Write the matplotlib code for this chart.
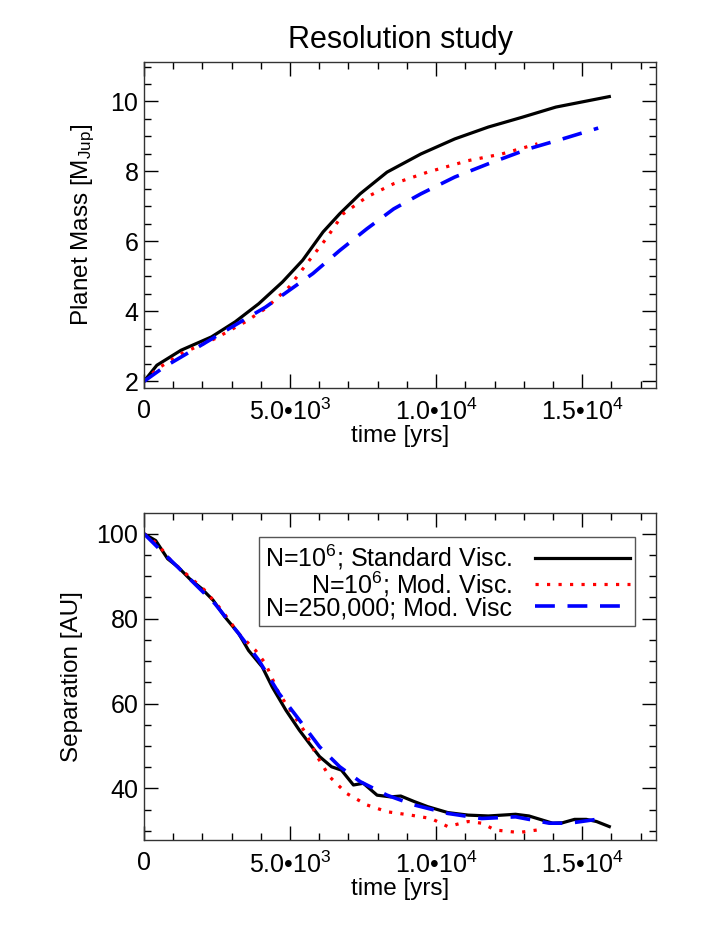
import numpy as np
import matplotlib
matplotlib.use('Agg')
import matplotlib.pyplot as plt
from matplotlib.ticker import FixedLocator, MultipleLocator

plt.rcParams['font.family'] = ['Liberation Sans', 'DejaVu Sans']
plt.rcParams['mathtext.fontset'] = 'custom'
plt.rcParams['mathtext.rm'] = 'Liberation Sans'
plt.rcParams['mathtext.it'] = 'Liberation Sans:italic'

# ---- planet mass (top panel) ----
t_std_m = [0, 440, 1270, 2310, 3120, 3930, 4740, 5430, 6130, 6700, 7400, 8320, 9480, 10640, 11790, 12950, 14100, 15930]
m_std = [2.0, 2.46, 2.89, 3.27, 3.70, 4.22, 4.84, 5.46, 6.27, 6.79, 7.36, 7.98, 8.50, 8.93, 9.27, 9.55, 9.84, 10.14]

t_mod_m = [0, 460, 1270, 2430, 3470, 4160, 4970, 5660, 6240, 6820, 7630, 8550, 9710, 11100, 12250, 13470]
m_mod = [2.0, 2.36, 2.79, 3.22, 3.70, 4.08, 4.70, 5.46, 6.08, 6.79, 7.27, 7.65, 7.98, 8.31, 8.50, 8.79]

t_low_m = [0, 690, 1850, 3000, 4160, 4970, 5780, 6700, 7630, 8550, 9480, 10640, 11790, 13180, 14330, 15550]
m_low = [2.0, 2.41, 2.98, 3.55, 4.12, 4.60, 5.08, 5.74, 6.36, 6.93, 7.36, 7.84, 8.22, 8.65, 8.93, 9.24]

# ---- separation (bottom panel) ----
t_std_s = [0, 400, 810, 1160, 1560, 1970, 2370, 2770, 3240, 3580, 4050, 4390, 4860, 5320, 5660, 6010,
           6420, 6760, 7170, 7510, 7980, 8440, 8790, 9250, 9710, 10400, 11100, 11790, 12720, 13180,
           13990, 14330, 14740, 15140, 15490, 15930]
s_std = [100, 98.4, 94.1, 92.2, 89.4, 87.1, 84.3, 80.4, 76.5, 72.5, 68.6, 63.9, 58.4, 53.7, 50.6, 47.5,
         45.1, 44.3, 40.8, 41.2, 38.4, 38.0, 38.2, 36.9, 35.7, 34.3, 33.7, 33.5, 33.9, 33.5,
         31.8, 31.9, 32.7, 32.7, 32.2, 31.0]

t_mod_s = [0, 460, 920, 1500, 2080, 2660, 3240, 3820, 4160, 4620, 5090, 5550, 5900, 6360, 6940, 7630,
           8320, 9130, 9830, 10400, 11100, 11560, 12020, 12830, 13470]
s_mod = [100, 97.6, 93.7, 90.2, 86.7, 82.0, 76.5, 72.5, 69.4, 62.4, 57.6, 52.9, 47.8, 42.7, 38.8, 36.1,
         34.5, 33.7, 32.9, 31.0, 32.2, 31.8, 30.2, 29.6, 30.2]

t_low_s = [0, 690, 1620, 2430, 3240, 3930, 4620, 5320, 6010, 6700, 7400, 8320, 9250, 10400, 11560,
           12720, 13870, 14570, 15490]
s_low = [100, 95.3, 89.0, 83.5, 76.5, 70.2, 62.4, 56.1, 49.8, 45.1, 41.6, 38.4, 36.1, 34.1, 32.9,
         33.3, 31.8, 31.8, 32.7]

labels = ['N=10$^6$; Standard Visc.', 'N=10$^6$; Mod. Visc.', 'N=250,000; Mod. Visc']
xticks = [0, 5000, 10000, 15000]
xticklabels = ['0', '5.0\u202210$^3$', '1.0\u202210$^4$', '1.5\u202210$^4$']

styles = [dict(color='black', lw=2.3, ls='-'),
          dict(color='red', lw=2.3, ls=(0, (1, 2.6))),
          dict(color='blue', lw=2.6, ls=(0, (5.5, 3.5)))]


def style_axis(ax, ymajor, yminor):
    ax.set_xlim(0, 17530)
    ax.xaxis.set_major_locator(FixedLocator(xticks))
    ax.set_xticklabels(xticklabels)
    ax.xaxis.set_minor_locator(MultipleLocator(1000))
    ax.yaxis.set_major_locator(MultipleLocator(ymajor))
    ax.yaxis.set_minor_locator(MultipleLocator(yminor))
    ax.tick_params(which='both', direction='in', top=True, right=True, labelsize=18)
    ax.tick_params(axis='x', pad=8)
    ax.tick_params(axis='y', pad=4)
    ax.tick_params(which='major', length=10, width=1)
    ax.tick_params(which='minor', length=5, width=1)
    for sp in ax.spines.values():
        sp.set_linewidth(1)
        sp.set_color('#333333')


fig = plt.figure(figsize=(7.09, 9.44), dpi=100)

# top: planet mass
ax1 = fig.add_axes([0.2031, 0.589, 0.7222, 0.345])
ax1.plot(t_std_m, m_std, **styles[0])
ax1.plot(t_mod_m, m_mod, **styles[1])
ax1.plot(t_low_m, m_low, **styles[2])
style_axis(ax1, 2, 0.5)
ax1.set_ylim(1.81, 11.12)
ax1.set_xlabel('time [yrs]', fontsize=17.5, labelpad=0)
ax1.set_ylabel('Planet Mass [M$_{\\mathrm{Jup}}$]', fontsize=17.5, labelpad=10)
ax1.set_title('Resolution study', fontsize=22, pad=10)

# bottom: separation
ax2 = fig.add_axes([0.2031, 0.110, 0.7222, 0.3466])
ax2.plot(t_std_s, s_std, label=labels[0], **styles[0])
ax2.plot(t_mod_s, s_mod, label=labels[1], **styles[1])
ax2.plot(t_low_s, s_low, label=labels[2], **styles[2])
style_axis(ax2, 20, 5)
ax2.set_ylim(27.8, 104.9)
ax2.set_xlabel('time [yrs]', fontsize=17.5, labelpad=0)
ax2.set_ylabel('Separation [AU]', fontsize=17.5, labelpad=10)

leg = ax2.legend(loc='upper right', bbox_to_anchor=(0.959, 0.927), borderaxespad=0,
                 markerfirst=False, fancybox=False, fontsize=18, handlelength=3.8,
                 handletextpad=0.9, labelspacing=-0.1, borderpad=0.22, framealpha=1)
leg.get_frame().set_edgecolor('#555555')
leg.get_frame().set_linewidth(1)

fig.savefig('out.png', dpi=100)
